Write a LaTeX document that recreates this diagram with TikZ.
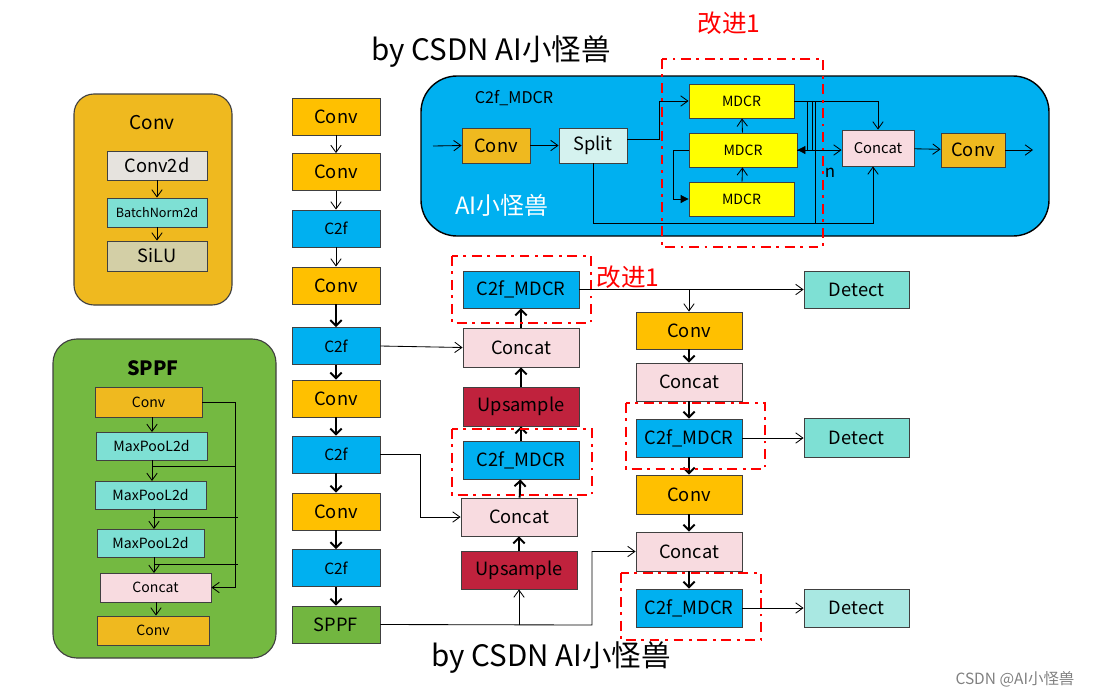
\documentclass[tikz,border=0pt]{standalone}
\usepackage{fontspec}
\setmainfont{Noto Sans CJK SC}
\usetikzlibrary{arrows.meta,calc}

\definecolor{convY}{HTML}{FFC000}
\definecolor{convD}{HTML}{EFB91F}
\definecolor{c2fB}{HTML}{00B0F0}
\definecolor{sppfG}{HTML}{72B640}
\definecolor{sppfBg}{HTML}{74B941}
\definecolor{catP}{HTML}{F8DBE0}
\definecolor{upR}{HTML}{C0223D}
\definecolor{detT}{HTML}{7EE0D4}
\definecolor{detL}{HTML}{A9E8E2}
\definecolor{mdY}{HTML}{FFFF00}
\definecolor{splitC}{HTML}{D5F2EF}
\definecolor{c2dG}{HTML}{E6E3DE}
\definecolor{siluK}{HTML}{D3CFA6}
\definecolor{edgeG}{HTML}{404040}
\definecolor{markR}{HTML}{FF0000}

\tikzset{
  >={Straight Barb[length=1.8mm,width=2.6mm]},
  blk/.style={draw=edgeG, line width=0.6pt, inner sep=0pt, font=\fontsize{13}{15}\selectfont},
  sz/.style 2 args={minimum width=#1*0.25mm, minimum height=#2*0.25mm},
  small/.style={font=\fontsize{10}{12}\selectfont},
  ln/.style={line width=0.6pt},
  thk/.style={line width=1.4pt, -{Straight Barb[length=1.4mm,width=2.8mm]}},
  improve/.style={draw=markR, line width=1.5pt, dash pattern=on 7pt off 4pt on 2pt off 4pt},
  redtxt/.style={text=markR, font=\fontsize{17.5}{19}\selectfont},
}

\begin{document}
\begin{tikzpicture}[x=0.25mm,y=-0.25mm]
\useasboundingbox (0,0) rectangle (1095,697);

% Conv module
\draw[fill=convD, draw=edgeG, line width=0.8pt, rounded corners=5mm] (74,94) rectangle (232,305);
\node[font=\fontsize{13.5}{15}\selectfont] (ctitle) at (152,123) {Conv};
\node[blk, fill=c2dG, sz={100}{29}] (conv2d) at (157,165.5) {Conv2d};
\node[blk, fill=detT, sz={100}{29}, font=\fontsize{9}{11}\selectfont] (bn) at (157,212.5) {BatchNorm2d};
\node[blk, fill=siluK, sz={100}{30}] (silu) at (157,256) {SiLU};
\draw[ln,->] (conv2d) -- (bn);
\draw[ln,->] (bn) -- (silu);

% SPPF module
\draw[fill=sppfBg, draw=edgeG, line width=0.8pt, rounded corners=6mm] (53,339) rectangle (276,658);
\node[font=\fontsize{14}{16}\selectfont\bfseries] (stitle) at (153,368) {SPPF};
\node[blk, fill=convD, sz={107}{30}, small] (sconv1) at (148.5,402) {Conv};
\node[blk, fill=detT, sz={111}{28}, small] (mp1) at (151.5,446) {MaxPooL2d};
\node[blk, fill=detT, sz={111}{28}, small] (mp2) at (150.5,495) {MaxPooL2d};
\node[blk, fill=detT, sz={107}{28}, small] (mp3) at (150.5,543) {MaxPooL2d};
\node[blk, fill=catP, sz={111}{29}, small] (sconcat) at (155.5,587.5) {Concat};
\node[blk, fill=convD, sz={112}{29}, small] (sconv2) at (153,630.5) {Conv};
\draw[ln,->] (152,417) -- (152,432);
\draw[ln,->] (152,460) -- (152,481);
\draw[ln,->] (154,509) -- (154,529);
\draw[ln,->] (154,557) -- (154,573);
\draw[ln,->] (sconcat.south -| 156,0) -- (sconv2.north -| 156,0);
\draw[ln,->] (sconv1.east) -- (235,402) |- (sconcat.east);
\draw[ln] (152,466) -- (235,466);
\draw[ln] (153,517) -- (238,517);
\draw[ln] (154,564) -- (238,564);

% backbone
\node[blk, fill=convY, sz={88}{37}] (bconv1) at (336,116.5) {Conv};
\node[blk, fill=convY, sz={88}{37}] (bconv2) at (336,172) {Conv};
\node[blk, fill=c2fB, sz={88}{37}, font=\fontsize{11}{13}\selectfont] (bc2f1) at (336,228.5) {C2f};
\node[blk, fill=convY, sz={88}{37}] (bconv3) at (336,285.5) {Conv};
\node[blk, fill=c2fB, sz={88}{37}, font=\fontsize{11}{13}\selectfont] (bc2f2) at (336,346) {C2f};
\node[blk, fill=convY, sz={88}{37}] (bconv4) at (336,398.5) {Conv};
\node[blk, fill=c2fB, sz={88}{37}, font=\fontsize{11}{13}\selectfont] (bc2f3) at (336,454.5) {C2f};
\node[blk, fill=convY, sz={88}{37}] (bconv5) at (336,511.5) {Conv};
\node[blk, fill=c2fB, sz={88}{37}, font=\fontsize{11}{13}\selectfont] (bc2f4) at (336,568) {C2f};
\node[blk, fill=sppfG, sz={88}{37}] (bsppf) at (336,624.5) {SPPF};
\draw[ln,->] (bconv1) -- (bconv2);
\draw[ln,->] (bconv2) -- (bc2f1);
\draw[ln,->] (bc2f1) -- (bconv3);
\draw[thk] (bconv3) -- (bc2f2);
\draw[thk] (bc2f2) -- (bconv4);
\draw[thk] (bconv4) -- (bc2f3);
\draw[thk] (bc2f3) -- (bconv5);
\draw[thk] (bconv5) -- (bc2f4);
\draw[thk] (bc2f4) -- (bsppf);

% neck, upward path
\node[blk, fill=c2fB, sz={116}{37}] (mc2f1) at (521,289.5) {C2f\_MDCR};
\node[blk, fill=catP, sz={116}{39}] (mconcat1) at (521,347.5) {Concat};
\node[blk, fill=upR, sz={116}{39}] (mup1) at (521,406.5) {Upsample};
\node[blk, fill=c2fB, sz={116}{38}] (mc2f2) at (521,460) {C2f\_MDCR};
\node[blk, fill=catP, sz={116}{38}] (mconcat2) at (519,517) {Concat};
\node[blk, fill=upR, sz={116}{38}] (mup2) at (519,570) {Upsample};
\draw[thk] (mup2) -- (mconcat2);
\draw[thk] (mconcat2) -- (mc2f2);
\draw[thk] (mc2f2) -- (mup1);
\draw[thk] (mup1) -- (mconcat1);
\draw[thk] (mconcat1) -- (mc2f1);
\draw[improve] (452,256) rectangle (591,323);
\draw[improve] (452,429) rectangle (592,495);
\node[redtxt] (imp2) at (628,277) {改进1};

\draw[ln,->] (bc2f2.east) -- (mconcat1.west);
\draw[ln,->] (bc2f3.east) -- (420,454.5) |- (mconcat2.west);
\draw[ln,->] (mup2.south |- bsppf.east) -- (mup2.south);

% neck, downward path
\node[blk, fill=convY, sz={106}{37}] (rconv1) at (689,330.5) {Conv};
\node[blk, fill=catP, sz={106}{38}] (rconcat1) at (689,382) {Concat};
\node[blk, fill=c2fB, sz={106}{38}] (rc2f1) at (689,438) {C2f\_MDCR};
\node[blk, fill=convY, sz={106}{39}] (rconv2) at (689,494.5) {Conv};
\node[blk, fill=catP, sz={106}{39}] (rconcat2) at (689,551.5) {Concat};
\node[blk, fill=c2fB, sz={106}{38}] (rc2f2) at (689,608) {C2f\_MDCR};
\node[blk, fill=detT, sz={105}{37}] (det1) at (856.5,289.5) {Detect};
\node[blk, fill=detT, sz={105}{39}] (det2) at (856.5,438) {Detect};
\node[blk, fill=detL, sz={105}{38}] (det3) at (856.5,608) {Detect};
\draw[thk] (rconv1) -- (rconcat1);
\draw[thk] (rconcat1) -- (rc2f1);
\draw[thk] (rc2f1) -- (rconv2);
\draw[thk] (rconv2) -- (rconcat2);
\draw[thk] (rconcat2) -- (rc2f2);
\draw[improve] (626,403) rectangle (765,469);
\draw[improve] (621,573) rectangle (761,640);

\draw[ln,->] (mc2f1.east) -- (det1.west);
\draw[ln,->] (rconv1.north |- mc2f1.east) -- (rconv1.north);
\draw[ln,->] (rc2f1.east) -- (det2.west);
\draw[ln,->] (rc2f2.east) -- (det3.west);
\draw[ln,->] (bsppf.east) -- (592,625) |- (rconcat2.west);

% C2f_MDCR module
\draw[fill=c2fB, draw=black, line width=1pt, rounded corners=9mm] (421,76) rectangle (1049,236);
\node[font=\fontsize{11.5}{13}\selectfont] (mtitle) at (514,98) {C2f\_MDCR};
\node[text=white, font=\fontsize{17}{19}\selectfont] (mname) at (502,205) {AI小怪兽};
\coordinate (tin) at (433,146);
\node[blk, fill=convD, sz={68}{35}] (tconv) at (496,145.5) {Conv};
\node[blk, fill=splitC, sz={68}{35}] (split) at (593,145.5) {Split};
\node[blk, fill=mdY, sz={105}{34}, small] (md1) at (741.5,101) {MDCR};
\node[blk, fill=mdY, sz={108}{34}, small] (md2) at (743,150) {MDCR};
\node[blk, fill=mdY, sz={105}{34}, small] (md3) at (741.5,199) {MDCR};
\node[blk, fill=catP, sz={72}{36}, font=\fontsize{10.5}{12}\selectfont] (tconcat) at (878,148) {Concat};
\node[blk, fill=convD, sz={64}{34}] (tconv2) at (973,150) {Conv};
\coordinate (tout) at (1033,150);
\node[font=\fontsize{12}{14}\selectfont] (nlab) at (830,173) {n};

\draw[ln,->] (tin) -- (tconv.west);
\draw[ln,->] (tconv) -- (split);
\draw[ln,->] ($(split.east)+(0,-6)$) -- (659,139.5) |- (md1.west);
\draw[ln,->] (md3) -- (md2);
\draw[ln,->] (md2) -- (md1);
\draw[ln,-{Triangle[length=2mm,width=2mm]}] (md2.west) -- (673,150) |- (md3.west);
\draw[ln,->] (md1.east) -| (tconcat.north);
\draw[ln] (807,101) -- (807,150);
\draw[ln] (812,101) -- (812,150);
\draw[ln] (815,101) -- (815,223);
\draw[ln,-{Triangle[length=2mm,width=2mm]}] (815,150) -- (md2.east);
\draw[ln,->] (md2.east) -- (md2.east -| tconcat.west);
\draw[ln,->] (split.south) -- (593,223) -| ($(tconcat.south)+(-5,0)$);
\draw[ln,->] (tconcat) -- (tconv2);
\draw[ln,->] (tconv2) -- (tout);
\draw[improve] (662,59) rectangle (823,247);
\node[redtxt] (imp1) at (729,23) {改进1};

% captions
\node[font=\fontsize{21}{24}\selectfont] (cap1) at (491,52) {by CSDN AI小怪兽};
\node[font=\fontsize{21}{24}\selectfont] (cap2) at (551,657) {by CSDN AI小怪兽};
\node[text=gray, font=\fontsize{11}{13}\selectfont] (wm) at (1015,679) {CSDN @AI小怪兽};
\end{tikzpicture}
\end{document}
